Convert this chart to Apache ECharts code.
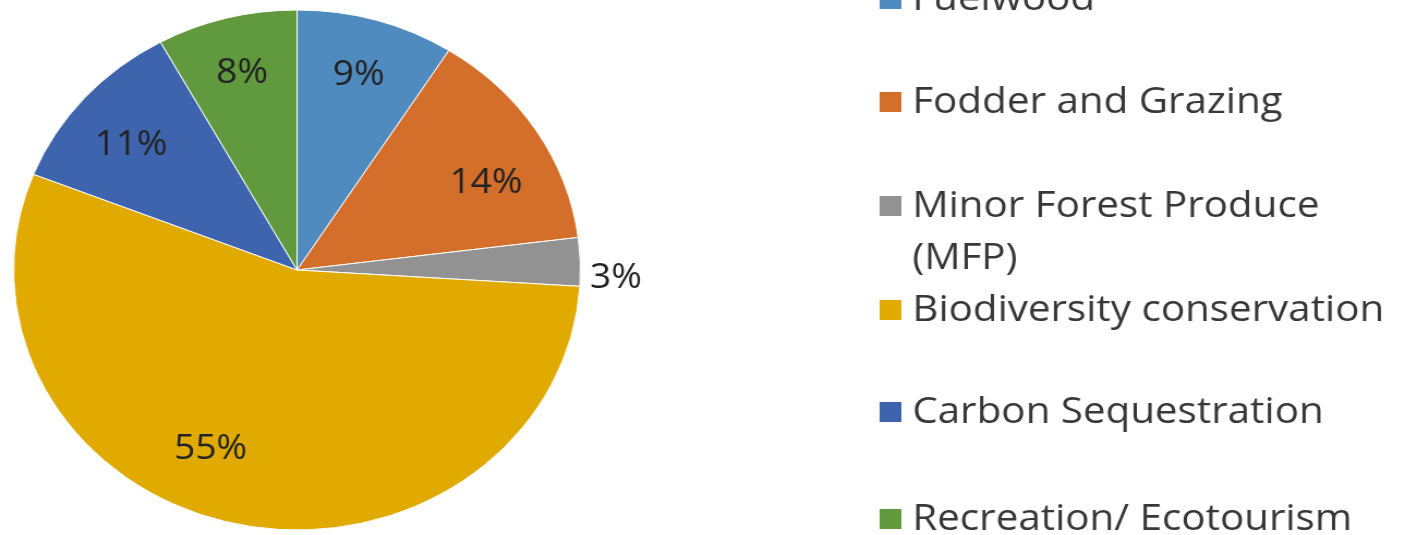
<!DOCTYPE html>
<html>
<head>
<meta charset="utf-8">
<script src="https://cdn.jsdelivr.net/npm/echarts@6/dist/echarts.min.js"></script>
<style>
html,body{margin:0;padding:0;background:#fff;overflow:hidden;}
/* 原图横向被拉伸，饼图是椭圆，这里整体横向拉伸 */
#main{width:1293px;height:535px;transform:scaleX(1.09);transform-origin:0 0;}
</style>
</head>
<body>
<div id="main"></div>
<script>
// 数据
var names = ['Fuelwood', 'Fodder and Grazing', 'Minor Forest Produce (MFP)', 'Biodiversity conservation', 'Carbon Sequestration', 'Recreation/ Ecotourism']
var values = [9, 14, 3, 55, 11, 8]
var colors = ['#4f8bbe', '#d46f2b', '#929292', '#e0aa00', '#3e64ad', '#619a3e']

// 标签微调 (Excel 最佳位置)
var labelOffset = [[0, 0], [2, 22], [0, 17], [-35, -19], [0, 10], [0, 0]]
// 图例每一项的中心y
var legendCenter = [-6, 97, 201, 305, 407, 514]
var lineH = 52
var fontName = 'Open Sans'
var fontSize = 34
var legendFontSize = 37

var myChart = echarts.init(document.getElementById('main'))

var pieData = []
var labelData = []
for (var i = 0; i < names.length; i++) {
	pieData.push({ name: names[i], value: values[i], itemStyle: { color: colors[i] } })
	var item = { name: names[i], value: values[i], label: { offset: labelOffset[i] } }
	if (values[i] < 5) {
		// 小块标签放外面
		item.label.position = 'outside'
		item.labelLine = { show: false, length: 4, length2: 0 }
	}
	labelData.push(item)
}

// 每个图例单独放，方便控制位置
var legends = []
for (var j = 0; j < names.length; j++) {
	var twoLine = names[j].indexOf('(MFP)') > 0
	legends.push({
		data: [names[j]],
		orient: 'vertical',
		left: 800,
		top: legendCenter[j] - (twoLine ? lineH * 1.5 : lineH / 2),
		icon: 'rect',
		itemWidth: 22,
		itemHeight: 22,
		selectedMode: false,
		formatter: function (name) {
			// 换行，前面加空行让第一行对齐图标
			if (name.indexOf('(MFP)') > 0) return ' \n' + name.replace(' (MFP)', '\n(MFP)')
			return name
		},
		textStyle: {
			fontFamily: fontName,
			fontSize: legendFontSize,
			color: '#383838',
			lineHeight: lineH,
			padding: [0, 0, 0, 4]
		}
	})
}

var option = {
	backgroundColor: '#fff',
	animation: false,
	legend: legends,
	series: [
		{
			name: 'main',
			type: 'pie',
			center: [272.5, 270],
			radius: [0, 260],
			startAngle: 90,
			clockwise: true,
			silent: true,
			label: { show: false },
			labelLine: { show: false },
			itemStyle: { borderColor: '#fff', borderWidth: 1 },
			data: pieData
		},
		{
			// 透明环，只用来放标签
			name: 'labels',
			type: 'pie',
			center: [272.5, 270],
			radius: [140, 260],
			startAngle: 90,
			clockwise: true,
			silent: true,
			avoidLabelOverlap: false,
			percentPrecision: 0,
			itemStyle: { color: 'transparent', borderWidth: 0 },
			label: {
				show: true,
				position: 'inside',
				formatter: '{d}%',
				fontFamily: fontName,
				fontSize: fontSize,
				color: '#222'
			},
			labelLine: { show: false },
			data: labelData
		}
	]
}
myChart.setOption(option)
</script>
</body>
</html>
